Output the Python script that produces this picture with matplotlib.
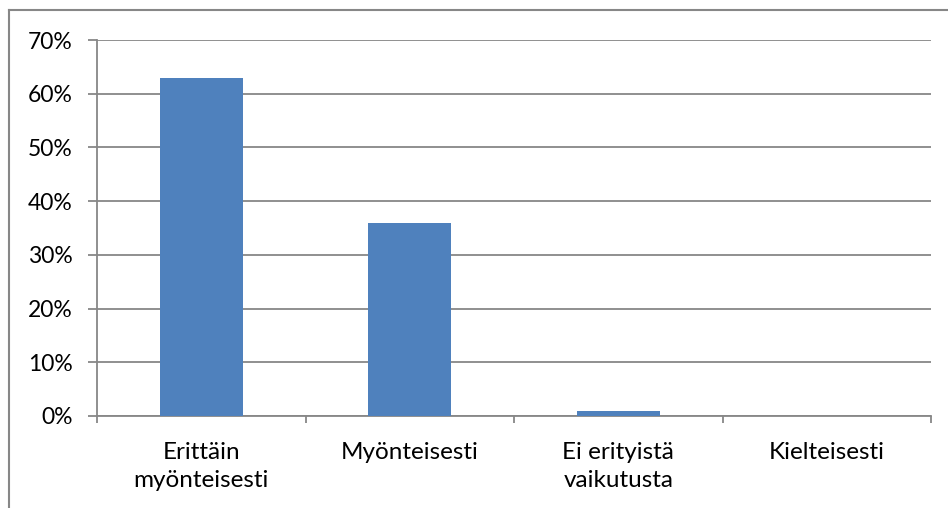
import numpy as np
import matplotlib.pyplot as plt
from matplotlib.lines import Line2D
from matplotlib.ticker import FixedLocator, PercentFormatter

plt.rcParams['font.family'] = ['Lato', 'DejaVu Sans']

# data
categories = ['Erittäin\nmyönteisesti', 'Myönteisesti', 'Ei erityistä\nvaikutusta', 'Kielteisesti']
shares = [63, 36, 1, 0]

grey = '#878787'
bar_col = '#4F81BD'

fig = plt.figure(figsize=(9.48, 5.08), dpi=100)
ax = fig.add_axes([97 / 948, 1 - 416 / 508, (931 - 97) / 948, (416 - 40) / 508])

x = np.arange(len(categories))
ax.bar(x, shares, width=0.4, color=bar_col, zorder=3)

ax.set_xlim(-0.5, len(categories) - 0.5)
ax.set_ylim(0, 70)
ax.set_yticks(np.arange(0, 71, 10))
ax.yaxis.set_major_formatter(PercentFormatter(decimals=0))
ax.yaxis.grid(True, color=grey, linewidth=1.3, zorder=0)

# ticks at category boundaries, labels at centres
ax.xaxis.set_major_locator(FixedLocator(np.arange(-0.5, len(categories), 1.0)))
ax.xaxis.set_minor_locator(FixedLocator(x))
ax.set_xticklabels([''] * (len(categories) + 1))
ax.tick_params(axis='x', which='major', length=5, width=1.3, color=grey, direction='out')
ax.tick_params(axis='x', which='minor', length=0, pad=19, labelsize=17.5)
ax.tick_params(axis='y', length=6.5, width=1.3, color=grey, pad=11, labelsize=16.5)
ax.set_xticklabels(categories, minor=True, va='top', linespacing=1.4)

for s in ['top', 'right']:
    ax.spines[s].set_visible(False)
for s in ['left', 'bottom']:
    ax.spines[s].set_color(grey)
    ax.spines[s].set_linewidth(1.3)

# outer chart border (left and top visible in the crop)
fig.add_artist(Line2D([8.5 / 948, 8.5 / 948], [0, 1 - 10 / 508], transform=fig.transFigure,
                      color=grey, linewidth=1.5))
fig.add_artist(Line2D([8.5 / 948, 1], [1 - 10 / 508, 1 - 10 / 508], transform=fig.transFigure,
                      color=grey, linewidth=1.5))

fig.savefig('out.png', dpi=100)
